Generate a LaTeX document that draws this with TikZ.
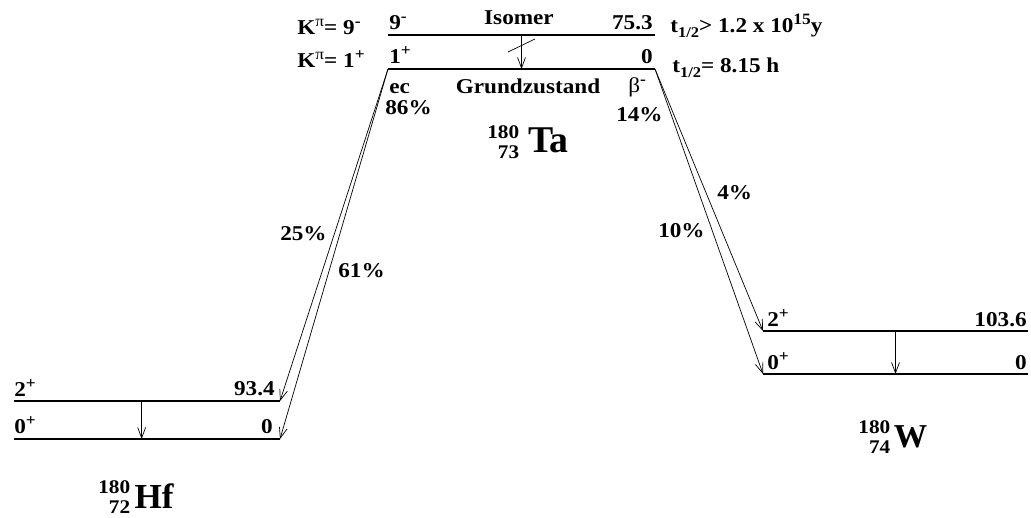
\documentclass[tikz,border=0pt]{standalone}
\usepackage{fontspec}
\setmainfont{Liberation Serif}[FakeStretch=1.1]
\newfontfamily\bigfont{Liberation Serif}
\usetikzlibrary{arrows.meta,calc,positioning}

\newcommand{\sups}[1]{\raisebox{.4em}{\fontsize{9}{9}\selectfont #1}}
\newcommand{\subs}[1]{\raisebox{-.22em}{\fontsize{8.5}{8.5}\selectfont #1}}
\newcommand{\nucl}[5][19]{\raisebox{-3pt}{\fontsize{11}{13}\selectfont\begin{tabular}[b]{@{}r@{}}#3\\[-1.8pt]#4\end{tabular}}\hspace{#2}{\bigfont\bfseries\fontsize{#1}{#1}\selectfont #5}}

\begin{document}
\begin{tikzpicture}[x=.2mm,y=-.2mm,
every node/.style={inner sep=0pt,font=\bfseries\fontsize{12}{14}\selectfont},
lvl/.style={line width=.9pt},
tr/.style={line width=.4pt,-{Straight Barb[length=6pt,width=4.5pt]}}]
\useasboundingbox (0,0) rectangle (1031,518);
% levels
\coordinate (TaI1) at (388,35);
\coordinate (TaI2) at (655,35);
\coordinate (TaG1) at (388,69);
\coordinate (TaG2) at (655,69);
\coordinate (Hf21) at (14,401);
\coordinate (Hf22) at (280,401);
\coordinate (Hf01) at (14,439);
\coordinate (Hf02) at (280,439);
\coordinate (W21) at (763,331);
\coordinate (W22) at (1028,331);
\coordinate (W01) at (763,374);
\coordinate (W02) at (1028,374);
\draw[lvl] (TaI1)--(TaI2);
\draw[lvl] (TaG1)--(TaG2);
\draw[lvl] (Hf21)--(Hf22);
\draw[lvl] (Hf01)--(Hf02);
\draw[lvl] (W21)--(W22);
\draw[lvl] (W01)--(W02);
% transitions
\draw[tr] (TaG1)--(Hf22);
\draw[tr] (TaG1)--(Hf02);
\draw[tr] (TaG2)--(W21);
\draw[tr] (TaG2)--(W01);
\draw[tr] ($(TaI1)!.5!(TaI2)$)--($(TaG1)!.5!(TaG2)$);
\draw[line width=.4pt] (508,52)--(535,39);
\draw[tr] ($(Hf21)!.48!(Hf22)$)--($(Hf01)!.48!(Hf02)$);
\draw[tr] ($(W21)!.5!(W22)$)--($(W01)!.5!(W02)$);
% Ta
\node[anchor=base west] (J9) at (389,30) {9\sups{-}};
\node[anchor=base] (Iso) at (519,25) {Isomer};
\node[anchor=base east] (E753) at (653,30) {75.3};
\node[anchor=base west] (K9) at (297,35) {K\sups{\mdseries π}= 9\sups{-}};
\node[anchor=base west] (T9) at (670,33) {t\subs{1/2}> 1.2 x 10\sups{15}y};
\node[anchor=base west] (J1) at (389,64) {1\sups{+}};
\node[anchor=base east] (E0) at (653,64) {0};
\node[anchor=base west] (K1) at (297,68) {K\sups{\mdseries π}= 1\sups{+}};
\node[anchor=base west] (T1) at (672,73) {t\subs{1/2}= 8.15 h};
\node[anchor=base west] (ec) at (389,94) {ec};
\node[anchor=base west] (P86) at (385,115) {86\%};
\node[anchor=base] (GZ) at (528,94) {Grundzustand};
\node[anchor=base west] (beta) at (628,93) {\mdseries β\sups{\bfseries -}};
\node[anchor=base east] (P14) at (663,122) {14\%};
\node[anchor=base west] (Ta) at (487,153) {\nucl[21.5]{5pt}{180}{73}{Ta}};
% branches
\node[anchor=base east] (P25) at (327,241) {25\%};
\node[anchor=base west] (P61) at (338,278) {61\%};
\node[anchor=base west] (P4) at (717,200) {4\%};
\node[anchor=base east] (P10) at (705,238) {10\%};
% Hf
\node[anchor=base west] (Hf2J) at (14,397) {2\sups{+}};
\node[anchor=base east] (Hf2E) at (275,396) {93.4};
\node[anchor=base west] (Hf0J) at (14,434) {0\sups{+}};
\node[anchor=base east] (Hf0E) at (273,434) {0};
\node[anchor=base west] (Hf) at (98,508) {\nucl[20]{2.5pt}{180}{72}{Hf}};
% W
\node[anchor=base west] (W2J) at (767,327) {2\sups{+}};
\node[anchor=base east] (W2E) at (1027,327) {103.6};
\node[anchor=base west] (W0J) at (767,370) {0\sups{+}};
\node[anchor=base east] (W0E) at (1027,370) {0};
\node[anchor=base west] (W) at (858,448) {\nucl[19]{2pt}{180}{74}{W}};
\end{tikzpicture}
\end{document}
